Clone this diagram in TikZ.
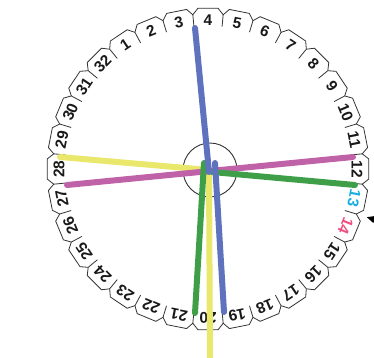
\documentclass[tikz,border=0pt]{standalone}
\usepackage{fontspec}
\setmainfont{Liberation Sans}
\usetikzlibrary{calc}

\definecolor{lblue}{HTML}{5E72BE}
\definecolor{lgreen}{HTML}{3F9F48}
\definecolor{lyellow}{HTML}{E9E86C}
\definecolor{lmagenta}{HTML}{C062A8}
\definecolor{numcyan}{HTML}{1AAEE0}
\definecolor{numpink}{HTML}{F0507F}

\tikzset{
  ringline/.style={draw=black!80,line width=0.8pt,line join=round},
  numlabel/.style={inner sep=0pt,font=\fontsize{15.5}{15.5}\selectfont\bfseries},
  wire/.style={line width=6pt,line cap=round,line join=round}
}

\begin{document}
\begin{tikzpicture}[x=1pt,y=1pt]
\useasboundingbox (0,0) rectangle (374,357);

\begin{scope}[shift={(208,188)}]
  % the 32 numbered teeth round the ring
  \foreach \n in {1,...,32} {
    \pgfmathsetmacro\ang{90-(\n-4)*11.25}
    \def\col{black!90}
    \ifnum\n=13 \def\col{numcyan}\fi
    \ifnum\n=14 \def\col{numpink}\fi
    \node[numlabel,text=\col,rotate=\ang-90] (n\n) at (\ang:149) {\n};
    \draw[ringline] (\ang-5.625:155) -- (\ang-3.6:161) -- (\ang+3.6:161) -- (\ang+5.625:155) -- (\ang+5.625:143);
  }
  % marker between 13 and 14
  \fill[black] (-16.875:166) -- (-18.1:174) -- (-15.65:174) -- cycle;
\end{scope}

% hub
\coordinate (hub) at (210,187);
\draw[black!80,line width=0.9pt] (hub) circle (27);

% wire ends
\coordinate (y1) at (60,200);
\coordinate (y2) at (209,187);
\coordinate (y3) at (210,-4);
\coordinate (m1) at (67,172);
\coordinate (m2) at (353,200);
\coordinate (g1) at (355,172);
\coordinate (g2) at (212,185);
\coordinate (g3) at (204,194);
\coordinate (g4) at (195,44);
\coordinate (b1) at (195,329);
\coordinate (b2) at (209,185);
\coordinate (b3) at (215,194);
\coordinate (b4) at (224,45);

\draw[wire,lyellow] (y1) -- (y2) -- (y3);
\draw[wire,lmagenta] (m1) -- (m2);
\draw[wire,lgreen] (g1) -- (g2);
\draw[wire,lgreen] (g3) -- (g4);
\draw[wire,lblue] (b1) -- (b2);
\draw[wire,lblue] (b3) -- (b4);

\end{tikzpicture}
\end{document}
